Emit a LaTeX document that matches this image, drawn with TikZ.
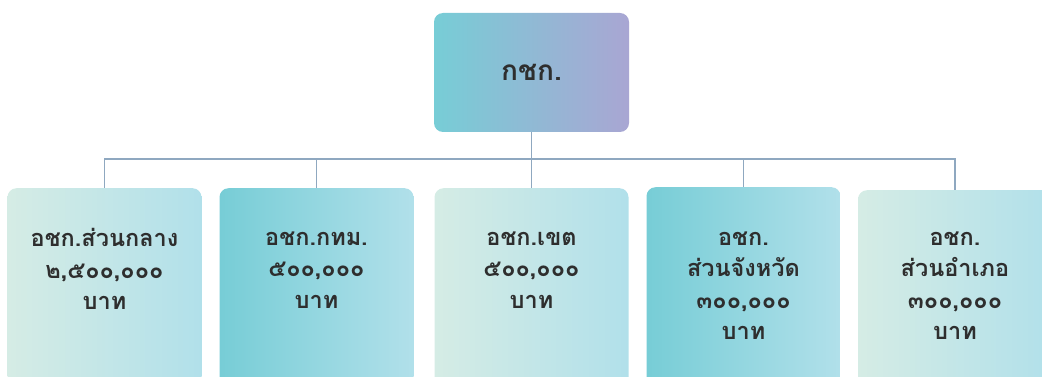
\documentclass[tikz,border=0pt]{standalone}
\usepackage{fontspec}
\newfontfamily\thaifont[Script=Thai]{Loma}
\usetikzlibrary{positioning}
\definecolor{tealc}{HTML}{77CDD6}
\definecolor{lavc}{HTML}{A9A6D3}
\definecolor{mintc}{HTML}{D5ECE5}
\definecolor{skyc}{HTML}{B1E0EA}
\definecolor{linec}{HTML}{8FA8C0}
\definecolor{textc}{HTML}{2E2E2E}
\tikzset{card/.style = {rectangle, rounded corners = 9, minimum width = 194,
                        minimum height = 240, anchor = north, inner sep = 0}}
\tikzset{pale/.style = {card, left color = mintc, right color = skyc}}
\tikzset{deep/.style = {card, left color = tealc, right color = skyc}}
\tikzset{lbl/.style = {anchor = north, align = center, text = textc,
                       font = \thaifont\bfseries\fontsize{23.5}{31.5}\selectfont}}
\tikzset{link/.style = {linec, line width = 1.3}}

\begin{document}
\begin{tikzpicture}[x = 1pt, y = -1pt]
    \useasboundingbox (0, 0) rectangle (1042, 377);
    \clip (0, 0) rectangle (1042, 377);

    \node [rectangle, rounded corners = 9, minimum width = 195, minimum height = 119,
           left color = tealc, right color = lavc, text = textc,
           font = \thaifont\bfseries\fontsize{28}{32}\selectfont] (top) at (531.5, 72.5) {กชก.};

    \node [pale] (b1) at (104.5, 188) {};
    \node [deep] (b2) at (316.5, 188) {};
    \node [pale] (b3) at (531.5, 188) {};
    \node [deep] (b4) at (743.5, 187) {};
    \node [pale] (b5) at (955, 190) {};

    \coordinate (bus) at (531.5, 159);
    \draw [link] (top.south) -- (bus);
    \foreach \b in {b1, b2, b3, b4, b5} {
      \draw [link] (bus) -| (\b.north);
    }

    \node [lbl, below = 37pt of b1.north] (t1) {อชก.ส่วนกลาง\\๒,๕๐๐,๐๐๐\\บาท};
    \node [lbl, below = 40pt of b2.north] (t2) {อชก.กทม.\\๕๐๐,๐๐๐\\บาท};
    \node [lbl, below = 40pt of b3.north] (t3) {อชก.เขต\\๕๐๐,๐๐๐\\บาท};
    \node [lbl, below = 41pt of b4.north] (t4) {อชก.\\ส่วนจังหวัด\\๓๐๐,๐๐๐\\บาท};
    \node [lbl, below = 38pt of b5.north] (t5) {อชก.\\ส่วนอำเภอ\\๓๐๐,๐๐๐\\บาท};
\end{tikzpicture}
\end{document}
